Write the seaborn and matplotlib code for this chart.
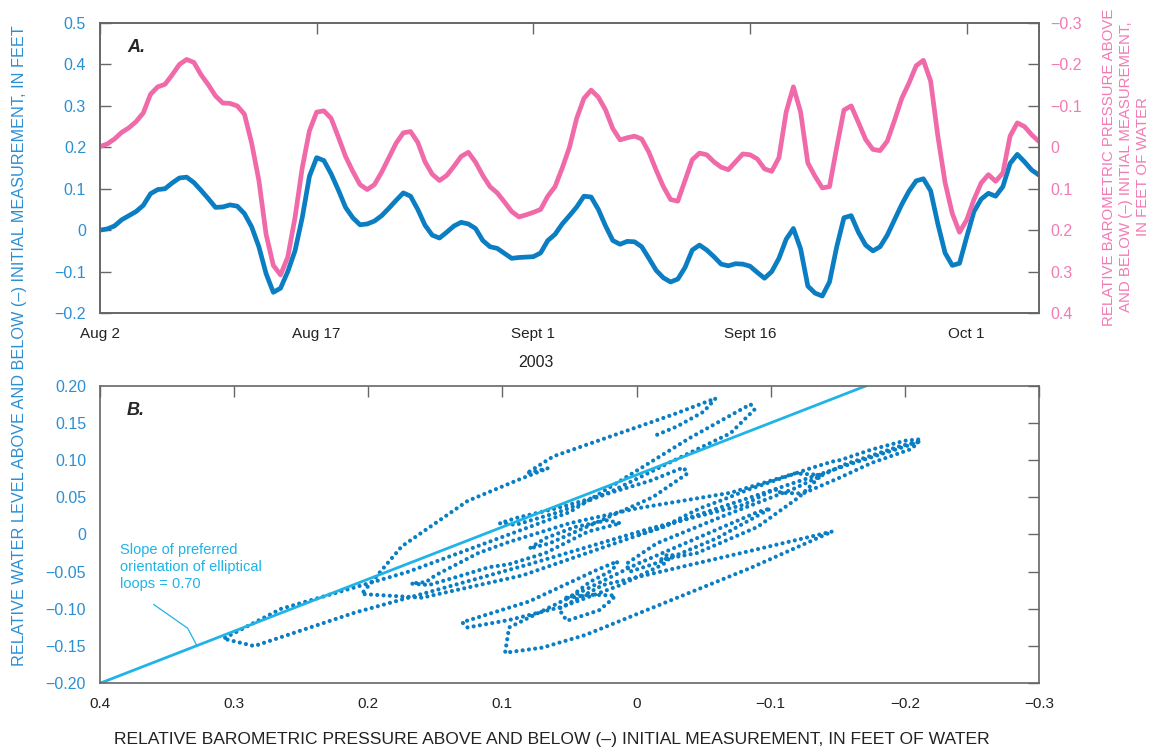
"""
Water level vs. barometric pressure, Aug 2 - Oct 6, 2003.

A. time series of relative water level (left) and barometric pressure (right, inverted)
B. water level plotted against barometric pressure, with preferred loop orientation
"""

import matplotlib.pyplot as plt
import matplotlib.ticker as mticker
import pandas as pd
import seaborn as sns

# ──────────────────────────────────────────────────────────────
# Data (read every 12 hours off the hydrograph, starting 2 Aug 2003)
# ──────────────────────────────────────────────────────────────

water_level = [
    0.000, 0.003, 0.010, 0.025, 0.035, 0.045, 0.060, 0.088, 0.098, 0.100,
    0.114, 0.126, 0.128, 0.115, 0.096, 0.076, 0.055, 0.056, 0.061, 0.058,
    0.040, 0.008, -0.040, -0.105, -0.150, -0.140, -0.100, -0.050, 0.030, 0.130,
    0.175, 0.168, 0.136, 0.097, 0.055, 0.030, 0.013, 0.015, 0.022, 0.035,
    0.053, 0.072, 0.090, 0.082, 0.050, 0.012, -0.012, -0.019, -0.005, 0.010,
    0.019, 0.015, 0.004, -0.025, -0.040, -0.044, -0.056, -0.068, -0.066, -0.065,
    -0.064, -0.055, -0.025, -0.010, 0.015, 0.035, 0.056, 0.082, 0.080, 0.050,
    0.010, -0.025, -0.034, -0.027, -0.028, -0.040, -0.068, -0.097, -0.115, -0.125,
    -0.118, -0.090, -0.048, -0.036, -0.048, -0.064, -0.082, -0.086, -0.081, -0.082,
    -0.087, -0.102, -0.116, -0.100, -0.068, -0.022, 0.004, -0.045, -0.135, -0.152,
    -0.159, -0.125, -0.040, 0.030, 0.035, -0.005, -0.036, -0.050, -0.040, -0.012,
    0.025, 0.062, 0.094, 0.119, 0.124, 0.095, 0.015, -0.055, -0.085, -0.080,
    -0.016, 0.045, 0.075, 0.089, 0.082, 0.105, 0.161, 0.183, 0.165, 0.145,
    0.133,
]

baro_pressure = [
    -0.002, -0.008, -0.020, -0.036, -0.047, -0.062, -0.083, -0.128, -0.146, -0.152,
    -0.175, -0.200, -0.212, -0.205, -0.175, -0.151, -0.124, -0.107, -0.106, -0.100,
    -0.080, -0.010, 0.080, 0.210, 0.285, 0.308, 0.265, 0.170, 0.050, -0.040,
    -0.085, -0.088, -0.070, -0.025, 0.022, 0.058, 0.090, 0.102, 0.090, 0.060,
    0.025, -0.010, -0.035, -0.038, -0.012, 0.035, 0.065, 0.080, 0.068, 0.046,
    0.022, 0.012, 0.036, 0.068, 0.095, 0.110, 0.132, 0.155, 0.168, 0.163,
    0.157, 0.150, 0.118, 0.095, 0.050, 0.000, -0.070, -0.118, -0.138, -0.121,
    -0.090, -0.045, -0.018, -0.023, -0.027, -0.020, 0.012, 0.055, 0.095, 0.126,
    0.130, 0.080, 0.030, 0.014, 0.018, 0.035, 0.048, 0.054, 0.035, 0.016,
    0.018, 0.028, 0.052, 0.058, 0.025, -0.085, -0.146, -0.085, 0.038, 0.070,
    0.098, 0.095, 0.000, -0.090, -0.100, -0.060, -0.019, 0.005, 0.008, -0.015,
    -0.065, -0.118, -0.155, -0.197, -0.210, -0.160, -0.027, 0.085, 0.160, 0.205,
    0.175, 0.126, 0.086, 0.066, 0.082, 0.062, -0.027, -0.059, -0.050, -0.030,
    -0.014,
]

tick_dates = ["2003-08-02", "2003-08-17", "2003-09-01", "2003-09-16", "2003-10-01"]
tick_labels = ["Aug 2", "Aug 17", "Sept 1", "Sept 16", "Oct 1"]

# preferred orientation of the elliptical loops (panel B)
loop_slope = -0.70
loop_anchor = (0.4, -0.20)

# ──────────────────────────────────────────────────────────────
# Style
# ──────────────────────────────────────────────────────────────

sns.set_style("white")
plt.rcParams["font.family"] = ["Liberation Sans", "DejaVu Sans"]

BLUE = "#0b7ec3"
BLUE_TEXT = "#2b8fd3"
PINK = "#f06aa9"
PINK_TEXT = "#f27ab5"
CYAN = "#1fb3e6"
FRAME = "#666666"
DOTS = (0, (0.01, 1.5))


def signed_fmt(decimals):
    def fmt(v, pos):
        if abs(v) < 1e-9:
            return "0"
        return f"{v:.{decimals}f}".replace("-", "\u2212")
    return mticker.FuncFormatter(fmt)


def frame(ax):
    for sp in ax.spines.values():
        sp.set_color(FRAME)
        sp.set_linewidth(1.2)


times = pd.date_range("2003-08-02", periods=len(water_level), freq="12h")
df = pd.DataFrame({"time": times, "water": water_level, "baro": baro_pressure})

fig = plt.figure(figsize=(11.61, 7.55), dpi=100)

# ──────────────────────────────────────────────────────────────
# Panel A: time series
# ──────────────────────────────────────────────────────────────

ax_a = fig.add_axes([0.0861, 0.5854, 0.8088, 0.3841])
ax_p = ax_a.twinx()

sns.lineplot(data=df, x="time", y="water", ax=ax_a, color=BLUE, lw=3.4,
             solid_capstyle="round", solid_joinstyle="round")
sns.lineplot(data=df, x="time", y="baro", ax=ax_p, color=PINK, lw=3.4,
             solid_capstyle="round", solid_joinstyle="round")

ax_a.set_xlim(times[0], times[-1])
ax_a.set_ylim(-0.2, 0.5)
ax_p.set_ylim(0.4, -0.3)
ax_a.yaxis.set_major_locator(mticker.MultipleLocator(0.1))
ax_p.yaxis.set_major_locator(mticker.MultipleLocator(0.1))
ax_a.yaxis.set_major_formatter(signed_fmt(1))
ax_p.yaxis.set_major_formatter(signed_fmt(1))
ax_a.set_xticks(pd.to_datetime(tick_dates))
ax_a.set_xticklabels(tick_labels)

ax_a.tick_params(axis="x", direction="in", length=8, width=1, color=FRAME,
                 top=True, pad=10, labelsize=11, labelcolor="#222222")
ax_a.tick_params(axis="y", direction="in", length=8, width=1, color=FRAME,
                 pad=10, labelsize=11.5, labelcolor=BLUE_TEXT)
ax_p.tick_params(axis="y", direction="in", length=8, width=1, color=FRAME,
                 pad=8, labelsize=11.5, labelcolor=PINK_TEXT)

ax_a.set_ylabel("")
ax_p.set_ylabel("")
ax_a.set_xlabel("2003", fontsize=11.5, color="#222222")
ax_a.xaxis.set_label_coords(0.464, -0.145)
frame(ax_a)
frame(ax_p)

ax_a.text(0.029, 0.945, "A.", transform=ax_a.transAxes, fontsize=13,
          fontweight="bold", fontstyle="italic", va="top", ha="left")

# ──────────────────────────────────────────────────────────────
# Panel B: water level against barometric pressure
# ──────────────────────────────────────────────────────────────

ax_b = fig.add_axes([0.0861, 0.0950, 0.8088, 0.3942])

sns.lineplot(data=df, x="baro", y="water", ax=ax_b, sort=False, estimator=None,
             color=BLUE, lw=3.0, linestyle=DOTS, dash_capstyle="round")
ax_b.axline(loop_anchor, slope=loop_slope, color=CYAN, lw=2)

ax_b.set_xlim(0.4, -0.3)
ax_b.set_ylim(-0.2, 0.2)
ax_b.xaxis.set_major_locator(mticker.MultipleLocator(0.1))
ax_b.yaxis.set_major_locator(mticker.MultipleLocator(0.05))
ax_b.xaxis.set_major_formatter(signed_fmt(1))
ax_b.yaxis.set_major_formatter(signed_fmt(2))
ax_b.tick_params(axis="x", direction="in", length=8, width=1, color=FRAME,
                 top=True, pad=10, labelsize=11, labelcolor="#222222")
ax_b.tick_params(axis="y", direction="in", length=8, width=1, color=FRAME,
                 right=True, pad=10, labelsize=11.5, labelcolor=BLUE_TEXT)
ax_b.set_ylabel("")
ax_b.set_xlabel("")
frame(ax_b)

ax_b.text(0.028, 0.945, "B.", transform=ax_b.transAxes, fontsize=13,
          fontweight="bold", fontstyle="italic", va="top", ha="left")

ax_b.annotate(
    "Slope of preferred\norientation of elliptical\nloops = 0.70",
    xy=(0.328, -0.1485), xytext=(0.385, -0.012),
    fontsize=10.5, color=CYAN, va="top", ha="left", linespacing=1.25,
)
ax_b.annotate(
    "", xy=(0.328, -0.1485), xytext=(0.360, -0.094),
    arrowprops=dict(arrowstyle="-", color=CYAN, lw=0.9,
                    connectionstyle="angle,angleA=-35,angleB=118,rad=0",
                    shrinkA=0, shrinkB=0),
)

# ──────────────────────────────────────────────────────────────
# Shared axis titles
# ──────────────────────────────────────────────────────────────

fig.text(0.0165, 0.542,
         "RELATIVE WATER LEVEL ABOVE AND BELOW (\u2013) INITIAL MEASUREMENT, IN FEET",
         rotation=90, ha="center", va="center", fontsize=11.7, color=BLUE_TEXT)
fig.text(0.970, 0.779,
         "RELATIVE BAROMETRIC PRESSURE ABOVE\nAND BELOW (\u2013) INITIAL MEASUREMENT,\nIN FEET OF WATER",
         rotation=90, ha="center", va="center", fontsize=10.8, linespacing=1.3,
         multialignment="center", color=PINK_TEXT)
fig.text(0.475, 0.020,
         "RELATIVE BAROMETRIC PRESSURE ABOVE AND BELOW (\u2013) INITIAL MEASUREMENT, IN FEET OF WATER",
         ha="center", va="center", fontsize=12.6, color="#222222")

fig.savefig("out.png", dpi=100)
